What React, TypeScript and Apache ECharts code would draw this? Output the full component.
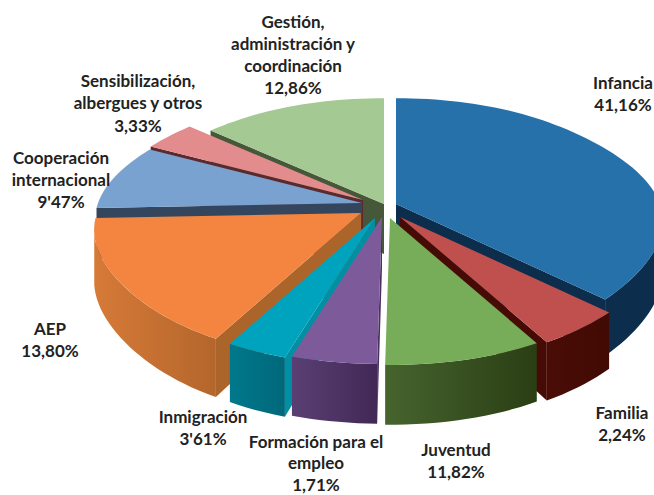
import React, { useEffect, useRef } from "react";
import * as echarts from "echarts";

// Printed labels, clockwise from the top
const labelLines: string[][] = [
  ["Infancia"],
  ["Familia"],
  ["Juventud"],
  ["Formación para el", "empleo"],
  ["Inmigración"],
  ["AEP"],
  ["Cooperación", "internacional"],
  ["Sensibilización,", "albergues y otros"],
  ["Gestión,", "administración y", "coordinación"],
];
const printedValues = ["41,16%", "2,24%", "11,82%", "1,71%", "3'61%", "13,80%", "9'47%", "3,33%", "12,86%"];
// Share of the circle each slice takes in the picture (%), which differs from the printed figures
const drawnShares = [37.1, 4.8, 8.35, 4.45, 3.3, 16.36, 8.4, 3.75, 13.5];

// Styles and layout
const topColors = ["#2771ab", "#c0504d", "#77ad58", "#7d5b9a", "#00a3bd", "#f38540", "#7aa2d0", "#e28c8e", "#a5c993"];
const innerColors = ["#0c2d4c", "#470b05", "#2f4419", "#4a3062", "#008fa3", "#ab652b", "#33465e", "#5b2a2d", "#47573a"];
const wallLeft = ["#0c2d4c", "#4a0c06", "#46642e", "#5a3f74", "#00788c", "#d67a38", "#33465e", "#5b2a2d", "#47573a"];
const wallRight = ["#0c2d4c", "#420a04", "#2a3e14", "#422855", "#00687a", "#b4662c", "#33465e", "#5b2a2d", "#47573a"];
const apexes: [number, number][] = [
  [396, 204], [400, 217], [390, 218], [382, 217], [375, 218], [361, 213], [362, 203], [363, 200], [384, 204],
];
const paintOrder = [0, 8, 7, 6, 5, 1, 2, 4, 3];
const labelCenters: [number, number][] = [
  [623, 82], [622, 412], [456, 449], [316, 441], [203, 416], [50, 328], [61, 157], [138, 80], [293, 21],
];
const labelLineHeights = [22, 22, 22, 21.5, 22, 22, 22, 22.5, 22];
const RX = 264;
const RY = 123;
const K = 0.163;
const H0 = 50;
const RAD = Math.PI / 180;

function project(deg: number) {
  const a = deg * RAD;
  const u = Math.sin(a);
  const v = -Math.cos(a);
  const w = 1 - K * v;
  const squeeze = 1 - 0.03 * Math.sin(2 * a) ** 2;
  return { x: ((RX * u) / w) * squeeze, y: (RY * v) / w, h: H0 / w };
}

const total = drawnShares.reduce((s, x) => s + x, 0);
const starts: number[] = [];
drawnShares.reduce((acc, s) => {
  starts.push(acc);
  return acc + (s / total) * 360;
}, 0);

function renderSlice(_params: any, api: any) {
  const i = api.value(0) as number;
  const a0 = starts[i];
  const a1 = a0 + (drawnShares[i] / total) * 360;
  const [ax, ay] = apexes[i];
  const at = (deg: number) => {
    const p = project(deg);
    return { x: ax + p.x, y: ay + p.y, h: p.h };
  };
  const children: any[] = [];
  const rimPts: number[][] = [];
  const N = Math.max(2, Math.ceil((a1 - a0) / 2));
  for (let n = 0; n <= N; n++) {
    const p = at(a0 + ((a1 - a0) * n) / N);
    rimPts.push([p.x, p.y]);
  }
  const mid = at((a0 + a1) / 2);
  const radial = (deg: number) => {
    const p = at(deg);
    const ex = p.x - ax;
    const ey = p.y - ay;
    const crossDown = ex;
    const crossIn = ex * (mid.y - ay) - ey * (mid.x - ax);
    if (crossDown * crossIn >= 0) return;
    children.push({
      type: "polygon",
      shape: { points: [[ax, ay], [p.x, p.y], [p.x, p.y + p.h], [ax, ay + H0]] },
      style: { fill: innerColors[i] },
    });
  };
  radial(a0);
  radial(a1);
  const edge = Math.acos(-K) / RAD;
  const w0 = Math.max(a0, edge);
  const w1 = Math.min(a1, 360 - edge);
  if (w1 > w0) {
    const M = Math.max(2, Math.ceil((w1 - w0) / 2));
    const upper: number[][] = [];
    const lower: number[][] = [];
    for (let n = 0; n <= M; n++) {
      const p = at(w0 + ((w1 - w0) * n) / M);
      upper.push([p.x, p.y]);
      lower.unshift([p.x, p.y + p.h]);
    }
    children.push({
      type: "polygon",
      shape: { points: upper.concat(lower) },
      style: {
        fill: new echarts.graphic.LinearGradient(0, 0, 1, 0, [
          { offset: 0, color: wallLeft[i] },
          { offset: 1, color: wallRight[i] },
        ]),
      },
    });
  }
  children.push({
    type: "polygon",
    shape: { points: [[ax, ay], ...rimPts] },
    style: { fill: topColors[i] },
  });
  return { type: "group", children };
}

export default function App() {
  const ref = useRef<HTMLDivElement>(null);
  useEffect(() => {
    document.body.style.margin = "0";
    const chart = echarts.init(ref.current!, null, { renderer: "svg" });
    chart.setOption({
      animation: false,
      backgroundColor: "#ffffff",
      series: [
        {
          type: "custom",
          coordinateSystem: "none",
          renderItem: renderSlice,
          data: paintOrder.map((i) => [i, drawnShares[i]]),
          silent: true,
        },
      ],
      graphic: labelLines.map((lines, i) => ({
        type: "text",
        x: labelCenters[i][0],
        y: labelCenters[i][1] - labelLineHeights[i] / 2,
        z: 10,
        style: {
          text: [...lines, printedValues[i]].join("\n"),
          fill: "#222222",
          font: 'bold 17px Lato, "Open Sans", sans-serif',
          lineHeight: labelLineHeights[i],
          align: "center",
          verticalAlign: "top",
        },
      })),
    });
    return () => chart.dispose();
  }, []);
  return <div ref={ref} style={{ width: 654, height: 495, overflow: "hidden" }} />;
}
